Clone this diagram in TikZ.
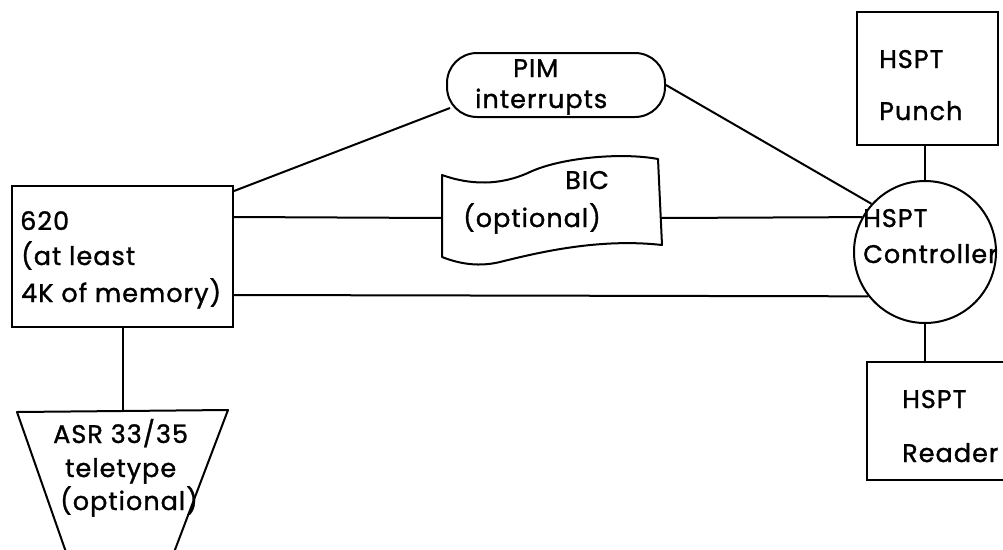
\documentclass[tikz,border=0pt]{standalone}
\usepackage{fontspec}
\setmainfont{Poppins}
\newfontfamily\lblfont{Poppins}[FakeBold=1.2,LetterSpace=4]
\usetikzlibrary{calc}
\begin{document}
\begin{tikzpicture}[x=1pt,y=-1pt,
  ln/.style={line width=2pt, line join=round},
  shp/.style={draw, line width=2pt, inner sep=0pt},
  lbl/.style={font=\lblfont\fontsize{25.5}{25.5}\selectfont, anchor=base west, inner sep=0pt}]
\useasboundingbox (0,0) rectangle (1003,549);
% shapes
\node[shp, rectangle, minimum width=221, minimum height=141] (m620) at (122.5,256.5) {};
\node[shp, rectangle, rounded corners=30pt, minimum width=218, minimum height=64] (pim) at (556,85) {};
\node[shp, circle, minimum size=142] (ctl) at (925,252) {};
\node[shp, rectangle, minimum width=141, minimum height=133] (punch) at (927.5,78.5) {};
\node[shp, rectangle, minimum width=143, minimum height=118] (reader) at (938.5,421) {};
% BIC document shape
\draw[ln] (442,257) -- (442,175) .. controls (470,185) and (500,186) .. (530,172)
  .. controls (560,158) and (620,152) .. (658,159) -- (662,245)
  .. controls (600,238) and (540,252) .. (500,262)
  .. controls (475,268) and (455,262) .. (442,257) -- cycle;
\coordinate (bicL) at (442,218);
\coordinate (bicR) at (661,218);
% teletype trapezoid
\draw[ln] (67,555) -- (17,412) -- (228,410) -- (173,555);
\coordinate (tty) at (122,411);
% connector ends
\coordinate (a1) at ($(m620.north east)+(0,6)$);
\coordinate (a2) at ($(m620.north east)+(0,32)$);
\coordinate (a3) at ($(m620.north east)+(0,110)$);
\coordinate (pimL) at (450,108);
% connectors
\draw[ln] (a1) -- (pimL);
\draw[ln] (pim.east) -- (ctl.138);
\draw[ln] (a2) -- (bicL);
\draw[ln] (bicR) -- (ctl.151);
\draw[ln] (a3) -- (ctl.218);
\draw[ln] (ctl.north) -- (ctl.north |- punch.south);
\draw[ln] (ctl.south) -- (ctl.south |- reader.north);
\draw[ln] (m620.south) -- (m620.south |- tty);
% labels
\node[lbl] (t620a) at (20,230) {620};
\node[lbl] (t620b) at (21,265) {(at least};
\node[lbl] (t620c) at (21,302) {4K of memory)};
\node[lbl] (tpima) at (513,77) {PIM};
\node[lbl] (tpimb) at (475,108) {interrupts};
\node[lbl] (tbica) at (565,189) {BIC};
\node[lbl] (tbicb) at (463,227) {(optional)};
\node[lbl] (tctla) at (863,227) {HSPT};
\node[lbl] (tctlb) at (863,263) {Controller};
\node[lbl] (tpuna) at (879,68) {HSPT};
\node[lbl] (tpunb) at (879,120) {Punch};
\node[lbl] (treaa) at (902,408) {HSPT};
\node[lbl] (treab) at (902,462) {Reader};
\node[lbl] (ttya) at (53,443) {ASR 33/35};
\node[lbl] (ttyb) at (65,477) {teletype};
\node[lbl] (ttyc) at (60,510) {(optional)};
\end{tikzpicture}
\end{document}
